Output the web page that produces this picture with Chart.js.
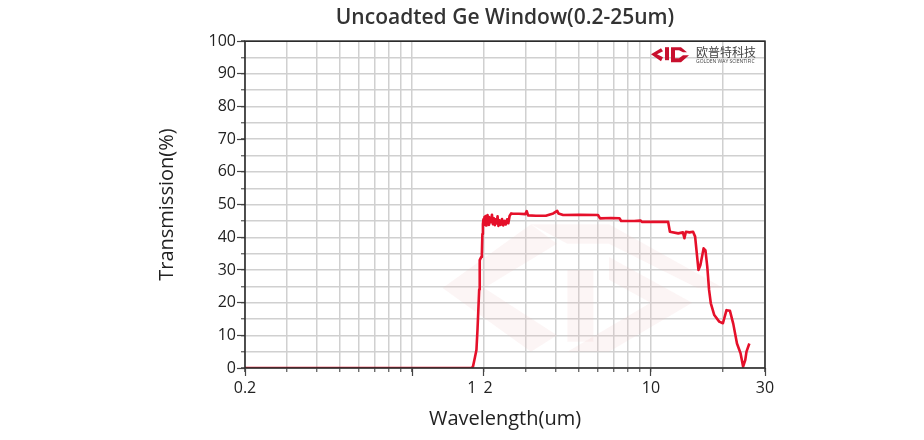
<!DOCTYPE html>
<html><head><meta charset="utf-8">
<script src="https://cdn.jsdelivr.net/npm/chart.js@4"></script>
<style>html,body{margin:0;padding:0;background:#fff}#wrap{width:924px;height:440px;position:relative}</style>
</head><body><div id="wrap"><canvas id="c"></canvas></div>
<script>
const chartTitle = 'Uncoadted Ge Window(0.2-25um)';
const xTitle = 'Wavelength(um)';
const yTitle = 'Transmission(%)';

const wavelength = [0.2, 0.5, 1.0, 1.5, 1.78, 1.80, 1.83, 1.86, 1.88, 1.89, 1.91, 1.92, 1.95, 1.96, 1.97, 1.98,
  1.99, 2.00, 2.01, 2.02, 2.03, 2.04, 2.05, 2.06, 2.07, 2.08, 2.09, 2.10, 2.12, 2.14, 2.16, 2.18, 2.20, 2.22, 2.24, 2.26, 2.28, 2.30, 2.32, 2.35, 2.38, 2.41, 2.44, 2.47, 2.50, 2.53, 2.56,
  2.60, 2.65, 2.80, 2.98, 3.02, 3.06, 3.30, 3.63, 3.90, 4.05, 4.10, 4.29, 5.0, 6.0, 6.12, 6.8, 7.38, 7.5, 8.5, 9.04, 9.18, 10.5, 11.8, 12.0, 13.0, 13.6, 13.8, 14.0, 14.5, 15.0, 15.3, 15.5, 15.8, 16.1, 16.6, 16.9, 17.2, 17.5, 17.8, 18.4, 19.3, 20.0, 20.7, 21.4, 22.1, 22.9, 23.7, 24.3, 24.8, 25.1, 25.8];
const transmission = [0, 0, 0, 0, 0, 0.5, 3, 5.5, 12, 16, 24, 33, 34, 35, 41, 44,
  45.5, 43.8, 46.2, 44.0, 46.5, 43.6, 46.0, 44.2, 46.8, 44.5, 46.3, 43.8, 46.0, 44.6, 46.9, 44.0, 45.8, 43.7, 45.5, 44.2, 46.4, 43.5, 45.2, 43.8, 45.6, 43.6, 45.0, 43.9, 45.5, 44.3, 46.5,
  47.3, 47.2, 47.2, 47.1, 48.0, 46.7, 46.6, 46.6, 47.3, 48.1, 47.3, 46.8, 46.9, 46.8, 45.8, 45.9, 45.8, 45.0, 45.0, 45.1, 44.7, 44.7, 44.7, 41.7, 41.2, 41.5, 39.7, 41.7, 41.5, 41.7, 40.2, 36.1, 30.0, 31.5, 36.6, 36.0, 31.0, 23.9, 19.8, 16.2, 14.2, 13.7, 17.7, 17.5, 13.5, 7.5, 4.5, 0.4, 2.4, 5.0, 7.5];

const xMajorTicks = [0.2, 1, 1.78, 2, 2.08, 10, 30];
const xMajorLabels = ['0.2', '', '1', '', '2', '10', '30'];
const xLabelOnly = [false, false, true, false, true, false, false];
const xMinorTicks = [0.2, 0.3, 0.4, 0.5, 0.6, 0.7, 0.8, 0.9, 1, 2, 3, 4, 5, 6, 7, 8, 9, 10, 20, 30];
const yMajorStep = 10;
const yMinorStep = 5;

const FONT = "'Open Sans', 'DejaVu Sans', sans-serif";

const decorPlugin = {
  id: 'decor',
  beforeDatasetsDraw(chart) {
    const {ctx, chartArea: a} = chart;
    const W = a.right - a.left, H = a.bottom - a.top;
    const P = (fx, fy) => [a.left + fx * W, a.top + fy * H];
    ctx.save();
    ctx.beginPath();
    ctx.rect(a.left, a.top, W, H);
    ctx.clip();
    ctx.fillStyle = 'rgba(235,185,185,0.15)';
    const poly = (pts) => { ctx.beginPath(); pts.forEach((p, i) => { const q = P(p[0], p[1]); i ? ctx.lineTo(q[0], q[1]) : ctx.moveTo(q[0], q[1]); }); ctx.closePath(); ctx.fill(); };
    poly([[0.38, 0.755], [0.55, 0.56], [0.60, 0.62], [0.46, 0.755], [0.60, 0.90], [0.55, 0.95]]);
    poly([[0.55, 0.56], [0.70, 0.56], [0.92, 0.755], [0.87, 0.755], [0.70, 0.62], [0.62, 0.62]]);
    poly([[0.62, 0.70], [0.67, 0.70], [0.67, 0.92], [0.62, 0.92]]);
    poly([[0.70, 0.66], [0.86, 0.80], [0.70, 0.95], [0.62, 0.95], [0.78, 0.80], [0.70, 0.73]]);
    ctx.restore();
  },
  afterDraw(chart) {
    const {ctx, chartArea: a} = chart;
    ctx.save();
    ctx.strokeStyle = '#2b2b2b';
    ctx.lineWidth = 1.6;
    ctx.strokeRect(a.left, a.top, a.right - a.left, a.bottom - a.top);
    const bx = a.right - 114, by = a.top + 13;
    ctx.fillStyle = '#c8102e';
    ctx.beginPath();
    ctx.moveTo(bx, by); ctx.lineTo(bx + 10, by - 6); ctx.lineTo(bx + 12, by - 3); ctx.lineTo(bx + 6, by); ctx.lineTo(bx + 12, by + 3); ctx.lineTo(bx + 10, by + 7); ctx.closePath(); ctx.fill();
    ctx.fillRect(bx + 14, by - 7, 4, 13);
    ctx.beginPath(); ctx.moveTo(bx + 20, by - 7); ctx.lineTo(bx + 30, by - 7); ctx.lineTo(bx + 36, by - 2); ctx.lineTo(bx + 32, by - 2); ctx.lineTo(bx + 28, by - 4); ctx.lineTo(bx + 24, by - 4); ctx.lineTo(bx + 24, by + 4); ctx.lineTo(bx + 28, by + 4); ctx.lineTo(bx + 32, by + 1); ctx.lineTo(bx + 38, by + 1); ctx.lineTo(bx + 30, by + 8); ctx.lineTo(bx + 20, by + 8); ctx.closePath(); ctx.fill();
    ctx.fillStyle = '#444';
    ctx.font = "12px 'Noto Sans CJK SC', sans-serif";
    ctx.textBaseline = 'middle';
    ctx.fillText('欧普特科技', bx + 45, by - 2);
    ctx.font = "5px " + FONT;
    ctx.fillText('GOLDEN WAY SCIENTIFIC', bx + 45, by + 7);
    ctx.restore();
  }
};

new Chart(document.getElementById('c'), {
  type: 'line',
  data: {
    datasets: [{
      data: wavelength.map((x, i) => ({x, y: transmission[i]})),
      borderColor: '#e5102a',
      borderWidth: 2.6,
      borderJoinStyle: 'round',
      pointRadius: 0,
      tension: 0,
      fill: false
    }]
  },
  options: {
    responsive: true,
    maintainAspectRatio: false,
    animation: false,
    layout: {padding: {left: 148, right: 159, top: 0, bottom: 0}},
    plugins: {
      legend: {display: false},
      tooltip: {enabled: false},
      title: {
        display: true,
        fullSize: false,
        text: chartTitle,
        color: '#333',
        font: {family: FONT, size: 21, weight: '600'},
        padding: {top: 5, bottom: 11}
      }
    },
    scales: {
      xMinor: {
        type: 'logarithmic', position: 'bottom', weight: 0,
        min: 0.2, max: 30,
        afterBuildTicks: (s) => { s.ticks = xMinorTicks.map(v => ({value: v})); },
        afterFit: (s) => { s.height = 0; },
        ticks: {display: false, autoSkip: false},
        grid: {color: '#d0d0d0', lineWidth: 1.5, tickLength: 4, tickColor: '#555', tickWidth: 1.2},
        border: {display: false}
      },
      x: {
        type: 'logarithmic', position: 'bottom', weight: 1,
        min: 0.2, max: 30,
        afterBuildTicks: (s) => { s.ticks = xMajorTicks.map(v => ({value: v})); },
        afterFit: (s) => { s.height = 72; },
        ticks: {
          autoSkip: false, maxRotation: 0, padding: 3, color: '#222',
          font: {family: FONT, size: 16},
          callback: (v, i) => xMajorLabels[i]
        },
        grid: {
          drawOnChartArea: false, tickLength: 8, tickWidth: 1.2,
          tickColor: (c) => xLabelOnly[c.index] ? 'rgba(0,0,0,0)' : '#444'
        },
        border: {display: false},
        title: {display: true, text: xTitle, color: '#222', font: {family: FONT, size: 20, weight: '500'}, padding: {top: 0, bottom: 9}}
      },
      yMinor: {
        type: 'linear', position: 'left', weight: 0,
        min: 0, max: 100,
        ticks: {display: false, stepSize: yMinorStep},
        afterFit: (s) => { s.width = 0; },
        grid: {color: '#d0d0d0', lineWidth: 1.5, tickLength: 4, tickColor: '#555', tickWidth: 1.2},
        border: {display: false}
      },
      y: {
        type: 'linear', position: 'left', weight: 1,
        min: 0, max: 100,
        afterFit: (s) => { s.width = 97; },
        ticks: {stepSize: yMajorStep, padding: 1, color: '#222', font: {family: FONT, size: 16}},
        grid: {drawOnChartArea: false, tickLength: 8, tickWidth: 1.2, tickColor: '#444'},
        border: {display: false},
        title: {display: true, text: yTitle, color: '#222', font: {family: FONT, size: 20, weight: '500'}, padding: {top: 7, bottom: 0}}
      }
    }
  },
  plugins: [decorPlugin]
});
</script>
</body></html>
